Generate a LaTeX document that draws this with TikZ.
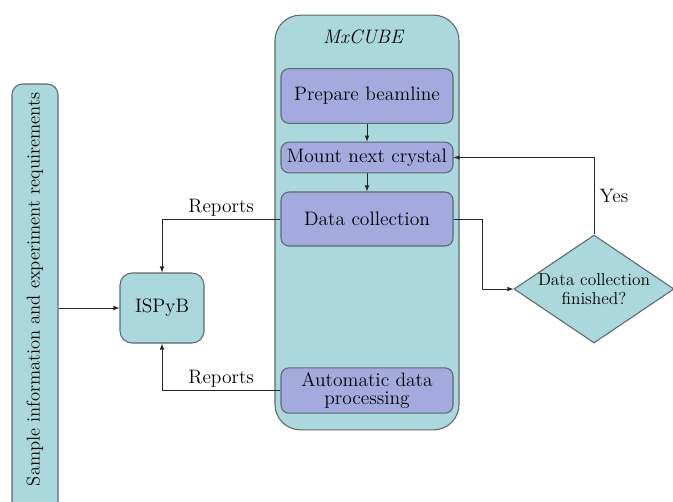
\documentclass[tikz,border=0pt]{standalone}
\usepackage{fontspec}
\usetikzlibrary{arrows, shapes.geometric}
\definecolor{mxteal}{RGB}{170,216,220}
\definecolor{mxblue}{RGB}{162,170,222}
\definecolor{mxedge}{RGB}{95,105,105}

\begin{document}
\begin{tikzpicture}[x=0.75pt, y=-0.75pt,
    every node/.style={font=\fontsize{14.6}{16}\selectfont},
    panel/.style={draw=mxedge, fill=mxteal, line width=0.8pt},
    stepbox/.style={draw=mxedge, fill=mxblue, line width=0.8pt, rounded corners=6pt,
                    minimum width=129pt, align=center, inner sep=1pt},
    link/.style={draw=black!85, line width=0.6pt, arrows={-latex}}]
      \useasboundingbox (0, 0) rectangle (673, 501);

      % Draw sample sheet and database.
      \node [panel, rounded corners=8pt, rotate=90, minimum width=327pt,
             minimum height=34.5pt, inner sep=0pt, font=\fontsize{13.9}{15}\selectfont]
            (sample) at (35, 302)
            {\hspace*{19pt}Sample information and experiment requirements};
      \node [panel, rounded corners=9pt, minimum width=63pt, minimum height=52.5pt]
            (ispyb) at (162, 308) {ISPyB};

      % Draw MxCUBE panel and its steps.
      \node [panel, rounded corners=19pt, minimum width=138pt, minimum height=311pt]
            (mxcube) at (367, 222.5) {};
      \node [font=\fontsize{14.6}{16}\selectfont\itshape] (mxlabel) at (363, 37) {MxCUBE};
      \node [stepbox, minimum height=41pt] (prepare) at (367, 96) {Prepare beamline};
      \node [stepbox, minimum height=23pt] (mount) at (367, 157.5) {Mount next crystal};
      \node [stepbox, minimum height=40.5pt] (collect) at (367, 219) {Data collection};
      \node [stepbox, minimum height=34pt, font=\fontsize{14.6}{14}\selectfont]
            (process) at (367, 390.5) {Automatic data\\processing};

      % Draw decision.
      \node [panel, diamond, aspect=1.5, minimum width=120pt, minimum height=81pt,
             inner sep=0pt, align=center, font=\fontsize{13}{14.5}\selectfont]
            (done) at (594, 289) {Data collection\\finished?};

      % Draw connectors.
      \draw [link] (prepare.south) -- (mount.north);
      \draw [link] (mount.south) -- (collect.north);
      \draw [link] (sample.south |- ispyb.west) -- (ispyb.west);
      \draw [link] (collect.west) -| (ispyb.north)
            node [pos=0.25, above, inner sep=2pt] {Reports};
      \draw [link] (process.west) -| (ispyb.south)
            node [pos=0.25, above, inner sep=2pt] {Reports};
      \draw [link] (collect.east) -- ++(29, 0) |- (done.west);
      \draw [link] (done.north) |- (mount.east)
            node [pos=0.25, right, inner sep=4pt] {Yes};
\end{tikzpicture}
\end{document}
